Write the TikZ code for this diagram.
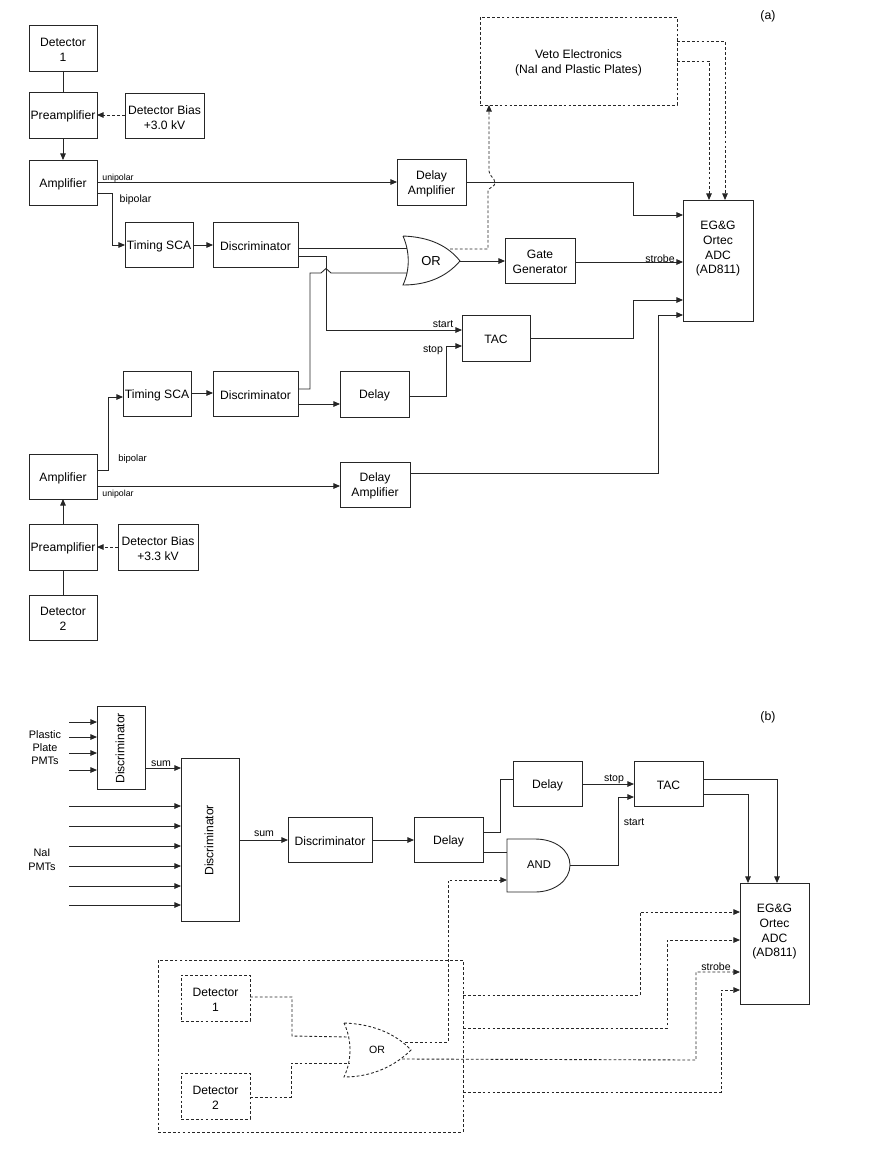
\documentclass[tikz,border=0pt]{standalone}
\usepackage{fontspec}
\usepackage{graphicx}
\setmainfont{Liberation Sans}
\usetikzlibrary{arrows.meta}
\tikzset{
  unit/.style={draw=black!85,line width=0.5pt,inner sep=0pt,outer sep=0pt},
  veto/.style={unit,dash pattern=on 1.6pt off 1.2pt},
  caption/.style={inner sep=0pt,align=center,yshift=-1pt,font=\fontsize{6.9}{8.5}\selectfont},
  wire/.style={draw=black!85,line width=0.5pt},
  feed/.style={wire,-{Triangle[length=3.8pt,width=3.2pt]}},
  dashwire/.style={wire,dash pattern=on 1.6pt off 1.2pt},
  dashfeed/.style={feed,dash pattern=on 1.6pt off 1.2pt},
  tag/.style={inner sep=0pt,font=\fontsize{6}{7}\selectfont},
  tiny tag/.style={inner sep=0pt,font=\fontsize{5}{6}\selectfont},
  panel/.style={inner sep=0pt,font=\fontsize{7}{8}\selectfont,align=center},
}
% A block given by its corner coordinates, with its caption as a node of its own
\newcommand{\blockat}[7][unit]{%
  \node[#1,minimum width=0.02cm*(#5-#3),minimum height=0.02cm*(#6-#4)]
    (#2) at ({(#3+#5)/2},{(#4+#6)/2}) {};
  \node[caption] (#2text) at (#2.center) {#7};}
\begin{document}
\begin{tikzpicture}[x=0.02cm,y=-0.02cm]
\useasboundingbox[fill=white] (0,0) rectangle (882,1176);

% ---- Panel (a): blocks ----
\blockat{det1}{29}{25}{97}{71}{Detector\\1}
\blockat{pre1}{29}{92}{97}{138}{Preamplifier}
\blockat{bias1}{125}{93}{204}{138}{Detector Bias\\+3.0 kV}
\blockat{amp1}{29}{160}{97}{205}{Amplifier}
\blockat{dla1}{397}{159}{466}{205}{Delay\\Amplifier}
\blockat{sca1}{125}{222}{193}{267}{Timing SCA}
\blockat{dis1}{213}{222}{298}{267}{Discriminator}
\blockat{gate}{505}{238}{575}{283}{Gate\\Generator}
\blockat{taca}{462}{315}{530}{361}{TAC}
\blockat{dly}{340}{371}{409}{417}{Delay}
\blockat{sca2}{123}{371}{191}{416}{Timing SCA}
\blockat{dis2}{213}{371}{298}{416}{Discriminator}
\blockat{amp2}{29}{454}{97}{499}{Amplifier}
\blockat{dla2}{340}{462}{410}{507}{Delay\\Amplifier}
\blockat{bias2}{118}{524}{198}{570}{Detector Bias\\+3.3 kV}
\blockat{pre2}{29}{524}{97}{570}{Preamplifier}
\blockat{det2}{29}{595}{97}{640}{Detector\\2}
\blockat[veto]{vetobox}{480}{17}{677}{105}{Veto Electronics\\(NaI and Plastic Plates)}
\blockat{adca}{683}{200}{753}{321}{EG\&G\\Ortec\\ADC\\(AD811)\\~\\~}

% OR gate of panel (a)
\draw[wire] (403,236) .. controls (430,237) and (448,246) .. (460,261)
  .. controls (448,275) and (430,285) .. (403,285)
  .. controls (410,270) and (410,252) .. (403,236);
\node[panel,font=\fontsize{7.4}{9}\selectfont] (ora) at (431,261) {OR};
\coordinate (oraIn1) at (407,248);
\coordinate (oraIn2) at (407,273);
\coordinate (oraOut) at (460,261);
\coordinate (oraTap) at (450,249);

% ---- Panel (a): connectors ----
\draw[wire] (det1) -- (pre1);
\draw[feed] (pre1) -- (amp1);
\draw[dashfeed] (bias1.west |- 0,115) -- (pre1.east |- 0,115);
\draw[feed] (amp1.east |- 0,182) -- (dla1.west |- 0,182);
\draw[feed] (amp1.east |- 0,193) -| (112,245) -- (sca1.west |- 0,245);
\draw[feed] (sca1.east |- 0,245) -- (dis1.west |- 0,245);
\draw[wire] (dis1.east |- 0,248) -- (oraIn1);
\draw[feed] (dis1.east |- 0,256) -| (326,330) -- (taca.west |- 0,330);
\draw[wire] (dis2.east |- 0,389) -| (310,273) -- (321,273) -- (326,268.5) -- (331,273) -- (oraIn2);
\draw[feed] (oraOut) -- (gate.west |- oraOut);
\draw[dashfeed] (oraTap) -- (488,249) -- (488,191)
  .. controls (489,187) and (495,187) .. (495,183)
  .. controls (495,178) and (489,176) .. (489,171) -- (vetobox.south -| 489,0);
\draw[dashfeed] (vetobox.east |- 0,41) -| (adca.north -| 725,0);
\draw[dashfeed] (vetobox.east |- 0,61) -| (adca.north -| 709,0);
\draw[feed] (dla1.east |- 0,182) -- (633,182) -- (633,215) -- (adca.west |- 0,215);
\draw[feed] (gate.east |- 0,262) -- (adca.west |- 0,262);
\draw[feed] (taca.east |- 0,338) -- (633,338) -- (633,300) -- (adca.west |- 0,300);
\draw[feed] (dla2.east |- 0,473) -- (658,473) -- (658,315) -- (adca.west |- 0,315);
\draw[feed] (dly.east |- 0,396) -- (446,396) -- (446,346) -- (taca.west |- 0,346);
\draw[feed] (amp2.east |- 0,470) -- (108,470) -- (108,397) -- (sca2.west |- 0,397);
\draw[feed] (sca2.east |- 0,393) -- (dis2.west |- 0,393);
\draw[feed] (dis2.east |- 0,404) -- (dly.west |- 0,404);
\draw[feed] (amp2.east |- 0,486) -- (dla2.west |- 0,486);
\draw[feed] (pre2) -- (amp2);
\draw[wire] (det2) -- (pre2);
\draw[dashfeed] (bias2.west |- 0,547) -- (pre2.east |- 0,547);

% ---- Panel (a): labels ----
\node[panel] (labela) at (768,16) {(a)};
\node[tiny tag] (uni1) at (118,178) {unipolar};
\node[tiny tag,font=\fontsize{6}{7}\selectfont] (bip1) at (135.5,200) {bipolar};
\node[tiny tag,font=\fontsize{5.4}{6}\selectfont] (bip2) at (132.5,459) {bipolar};
\node[tiny tag] (uni2) at (118,494) {unipolar};
\node[tag] (startA) at (443,324) {start};
\node[tag] (stopA) at (433,350) {stop};
\node[tag] (strobeA) at (660,259) {strobe};

% ---- Panel (b): blocks ----
\blockat{sdis}{97}{706}{145}{789}{\raisebox{1pt}{\rotatebox{90}{Discriminator}}\hspace*{1pt}}
\blockat{bdis}{181}{758}{239}{921}{\raisebox{1pt}{\rotatebox{90}{Discriminator}}\hspace*{1pt}}
\blockat{dis3}{288}{817}{372}{862}{Discriminator}
\blockat{dly3}{414}{817}{483}{862}{Delay}
\blockat{dly4}{513}{761}{582}{806}{Delay}
\blockat{tacb}{634}{761}{703}{806}{TAC}
\blockat{adcb}{740}{883}{809}{1004}{EG\&G\\Ortec\\ADC\\(AD811)\\~\\~}
\blockat[veto]{frame}{158}{960}{463}{1132}{}
\blockat[veto]{det3}{181}{975}{250}{1021}{Detector\\1}
\blockat[veto]{det4}{181}{1073}{250}{1119}{Detector\\2}

% AND gate
\draw[wire] (507,839) -- (535,839) .. controls (555,839) and (570,850) .. (570,865)
  .. controls (570,880) and (555,892) .. (535,892) -- (507,892) -- cycle;
\node[panel,font=\fontsize{6.4}{8}\selectfont] (andg) at (539,865) {AND};
\coordinate (andIn1) at (507,852);
\coordinate (andIn2) at (507,880);
\coordinate (andOut) at (570,865);

% OR gate of panel (b)
\draw[dashwire] (344,1023) .. controls (372,1024) and (395,1033) .. (411,1050)
  .. controls (395,1066) and (372,1077) .. (344,1077)
  .. controls (352,1060) and (352,1040) .. (344,1023);
\node[panel,font=\fontsize{6}{7}\selectfont] (orb) at (377,1050) {OR};
\coordinate (orbIn1) at (349,1037);
\coordinate (orbIn2) at (349,1063);
\coordinate (orbTap) at (405,1042);
\coordinate (orbOut) at (402,1059);

% ---- Panel (b): input lines ----
\foreach \yy in {722,737,753,770}{
  \coordinate (s\yy) at (69,\yy);
  \draw[feed] (s\yy) -- (sdis.west |- s\yy);
}
\foreach \yy in {806,826,846,866,886,905}{
  \coordinate (n\yy) at (69,\yy);
  \draw[feed] (n\yy) -- (bdis.west |- n\yy);
}

% ---- Panel (b): connectors ----
\draw[feed] (sdis.east |- 0,768) -- (bdis.west |- 0,768);
\draw[feed] (bdis.east |- 0,840) -- (dis3.west |- 0,840);
\draw[feed] (dis3.east |- 0,840) -- (dly3.west |- 0,840);
\draw[wire] (dly3.east |- 0,832) -- (500,832) -- (500,779) -- (dly4.west |- 0,779);
\draw[wire] (dly3.east |- 0,852) -- (andIn1);
\draw[feed] (dly4.east |- 0,784) -- (tacb.west |- 0,784);
\draw[feed] (andOut) -- (618,865) -- (618,797) -- (tacb.west |- 0,797);
\draw[feed] (tacb.east |- 0,779) -- (777,779) -- (adcb.north -| 777,0);
\draw[feed] (tacb.east |- 0,794) -- (748,794) -- (adcb.north -| 748,0);
\draw[dashwire] (det3.east |- 0,997) -- (292,997) -- (292,1036) -- (orbIn1);
\draw[dashwire] (det4.east |- 0,1097) -- (291,1097) -- (291,1063) -- (orbIn2);
\draw[dashfeed] (orbTap) -- (448,1042) -- (448,880) -- (andIn2);
\draw[dashfeed] (frame.east |- 0,995) -- (640,995) -- (640,912) -- (adcb.west |- 0,912);
\draw[dashfeed] (frame.east |- 0,1028) -- (667,1028) -- (667,940) -- (adcb.west |- 0,940);
\draw[dashfeed] (orbOut) -- (696,1060) -- (696,972) -- (adcb.west |- 0,972);
\draw[dashfeed] (frame.east |- 0,1092) -- (721,1092) -- (721,990) -- (adcb.west |- 0,990);

% ---- Panel (b): labels ----
\node[panel] (labelb) at (768,717) {(b)};
\node[panel,font=\fontsize{6.2}{7.4}\selectfont] (plastic) at (45,748) {Plastic\\Plate\\PMTs};
\node[panel,font=\fontsize{6.2}{7.8}\selectfont] (nai) at (42,860) {NaI\\PMTs};
\node[tag] (sum1) at (161,764) {sum};
\node[tag] (sum2) at (264,834) {sum};
\node[tag] (stopB) at (614,779) {stop};
\node[tag] (startB) at (634,822) {start};
\node[tag] (strobeB) at (716,967) {strobe};
\end{tikzpicture}
\end{document}
